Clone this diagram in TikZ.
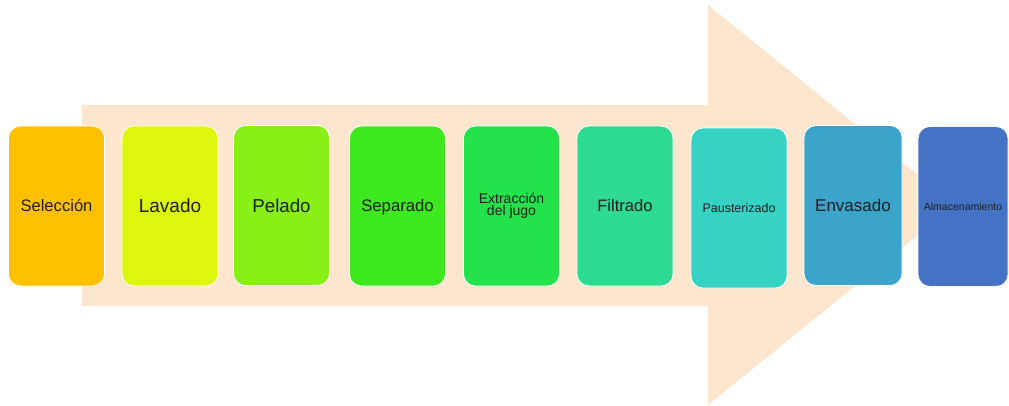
\documentclass[tikz,border=0pt]{standalone}
\usepackage{fontspec}
\setmainfont{Liberation Sans}
\definecolor{flecha}{RGB}{253,230,206}
\definecolor{cSel}{RGB}{255,192,0}
\definecolor{cLav}{RGB}{220,246,12}
\definecolor{cPel}{RGB}{136,240,22}
\definecolor{cSep}{RGB}{62,232,30}
\definecolor{cExt}{RGB}{36,226,76}
\definecolor{cFil}{RGB}{46,218,146}
\definecolor{cPau}{RGB}{54,210,196}
\definecolor{cEnv}{RGB}{60,163,202}
\definecolor{cAlm}{RGB}{68,114,196}

\begin{document}
\begin{tikzpicture}[x=1pt,y=-1pt,
        etapa/.style={draw=white, line width=0.8pt, rounded corners=12pt, minimum width=96pt,
                minimum height=160pt, inner sep=0pt, align=center, text=black!88},
        fs/.style={font=\fontsize{#1}{#1}\selectfont, text height=0.716*#1 pt, text depth=0pt}]
        \useasboundingbox (0,0) rectangle (1009,405);
        % flecha de fondo
        \fill[flecha] (82,105) -- (708,105) -- (708,5) -- (955,205) -- (708,405) -- (708,306) -- (82,306) -- cycle;
        \node[etapa, fill=cSel, fs=16.6] at (56.5,206) (sel) {Selección};
        \node[etapa, fill=cLav, fs=19] at (170,206) (lav) {Lavado};
        \node[etapa, fill=cPel, fs=18.7] at (281.5,205.5) (pel) {Pelado};
        \node[etapa, fill=cSep, fs=16.7] at (397.5,206) (sep) {Separado};
        \node[etapa, fill=cExt, font=\fontsize{14}{12.5}\selectfont] at (511.5,206) (ext) {Extracción\\del jugo};
        \node[etapa, fill=cFil, fs=16.6] at (625,206) (fil) {Filtrado};
        \node[etapa, fill=cPau, fs=12.5] at (739,208) (pau) {Pausterizado};
        \node[etapa, fill=cEnv, fs=17, minimum width=98pt] at (853,205.5) (env) {Envasado};
        \node[etapa, fill=cAlm, fs=10.5, minimum width=90pt] at (963,206.5) (alm) {Almacenamiento};
\end{tikzpicture}
\end{document}
